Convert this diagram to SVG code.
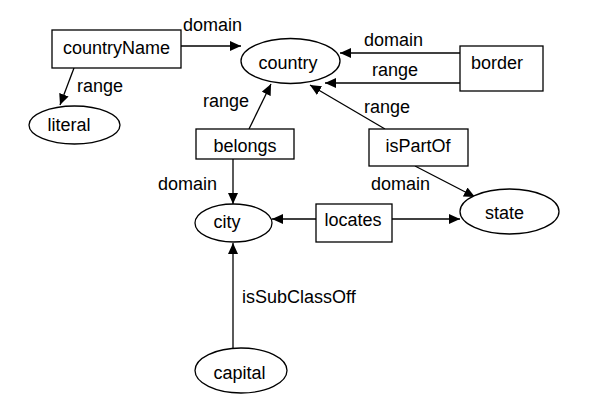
<svg xmlns="http://www.w3.org/2000/svg" width="593" height="404" viewBox="0 0 593 404">
<style>
.n{fill:#fff;stroke:#000;stroke-width:1.3}
text{font-family:"Liberation Sans",Arial,sans-serif;font-size:18px;fill:#000}
.c{text-anchor:middle}
.e{stroke:#000;stroke-width:1.3;fill:none;marker-end:url(#a)}
</style>
<defs>
<marker id="a" markerUnits="userSpaceOnUse" markerWidth="12" markerHeight="10" refX="11" refY="5" orient="auto">
<path d="M0,0 L11,5 L0,10 Z" fill="#000"/>
</marker>
</defs>
<rect width="593" height="404" fill="#fff"/>
<g id="connectors">
<line class="e" x1="181" y1="46" x2="241" y2="46"/>
<line class="e" x1="74" y1="68" x2="60" y2="105"/>
<line class="e" x1="249" y1="129" x2="271" y2="84"/>
<line class="e" x1="233" y1="159" x2="233" y2="204"/>
<line class="e" x1="460" y1="53" x2="340" y2="53"/>
<line class="e" x1="460" y1="83" x2="325" y2="83"/>
<line class="e" x1="385" y1="129" x2="310" y2="85"/>
<line class="e" x1="415" y1="166" x2="475" y2="197"/>
<line class="e" x1="316" y1="219" x2="272" y2="219"/>
<line class="e" x1="392" y1="219" x2="460" y2="219"/>
<line class="e" x1="233" y1="348" x2="233" y2="243"/>
<text x="183" y="31">domain</text>
<text x="77" y="92">range</text>
<text x="203" y="107">range</text>
<text x="158" y="190">domain</text>
<text x="364" y="46">domain</text>
<text x="372" y="76">range</text>
<text x="364" y="113">range</text>
<text x="371" y="190">domain</text>
<text x="242" y="303">isSubClassOff</text>
</g>
<g id="countryName"><rect class="n" x="52" y="30" width="129" height="38"/><text class="c" x="116.5" y="54">countryName</text></g>
<g id="country"><ellipse class="n" cx="290.5" cy="61" rx="49.5" ry="22.5"/><text class="c" x="288" y="69">country</text></g>
<g id="literal"><ellipse class="n" cx="74.5" cy="125" rx="45.5" ry="19"/><text class="c" x="69" y="131">literal</text></g>
<g id="belongs"><rect class="n" x="196" y="129" width="98" height="30"/><text class="c" x="245" y="152">belongs</text></g>
<g id="border"><rect class="n" x="460" y="46" width="83" height="45"/><text class="c" x="497" y="69">border</text></g>
<g id="isPartOf"><rect class="n" x="369" y="129" width="99" height="37"/><text class="c" x="418" y="152">isPartOf</text></g>
<g id="city"><ellipse class="n" cx="233.5" cy="223" rx="38.5" ry="19"/><text class="c" x="227" y="228">city</text></g>
<g id="locates"><rect class="n" x="316" y="204" width="76" height="38"/><text class="c" x="353" y="226">locates</text></g>
<g id="state"><ellipse class="n" cx="509.5" cy="211.5" rx="49.5" ry="22.5"/><text class="c" x="504.5" y="219">state</text></g>
<g id="capital"><ellipse class="n" cx="241" cy="370.5" rx="46" ry="22.5"/><text class="c" x="239.5" y="379">capital</text></g>
</svg>
